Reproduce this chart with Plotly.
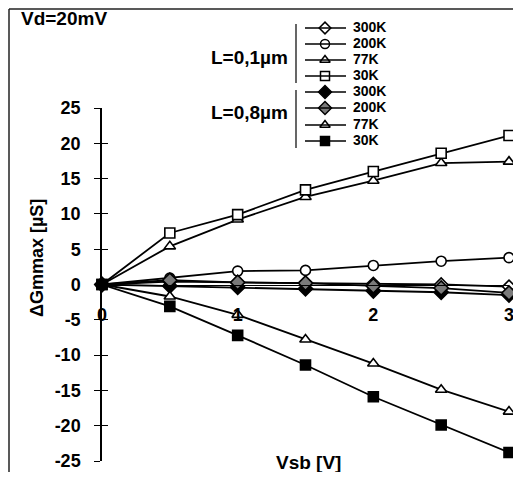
import plotly.graph_objects as go

# ---- data ----
vsb = [0, 0.5, 1, 1.5, 2, 2.5, 3]
l01_300K = [0, 0.4, 0.3, 0.2, 0.1, 0.0, -0.3]
l01_200K = [0, 0.9, 1.9, 2.0, 2.7, 3.3, 3.8]
l01_77K = [0, 5.4, 9.2, 12.4, 14.7, 17.2, 17.4]
l01_30K = [0, 7.3, 9.9, 13.4, 16.0, 18.6, 21.1]
l08_300K = [0, -0.2, -0.4, -0.6, -0.9, -1.1, -1.5]
l08_200K = [0, 0.6, 0.3, 0.2, -0.2, -0.5, -1.2]
l08_77K = [0, -1.7, -4.3, -7.8, -11.2, -14.9, -18.0]
l08_30K = [0, -3.1, -7.2, -11.4, -15.9, -19.9, -23.8]
temps = ["300K", "200K", "77K", "30K"]
y_ticks = [-25, -20, -15, -10, -5, 0, 5, 10, 15, 20, 25]
y_ticktext = ["-25", "-20", "-15", "-10", "-5", "0", "5", "10", "15", "20", "25"]
x_ticks = [0, 1, 2, 3]

# page body has an 8px margin; figure is placed at (8, 8)
OFF = 8
W, H = 521 - OFF, 464
L, R, T, B = 102, 509, 108, 461  # plot area in screen pixels


def px(x):
    return (x - OFF) / W


def py(y):
    return 1 - (y - OFF) / H


FONT = "Liberation Sans, Arial, sans-serif"
BLACK = "#000000"

styles = [
    ("diamond", "white", 10),
    ("circle", "white", 10),
    ("triangle-up", "white", 10),
    ("square", "white", 10),
    ("diamond", BLACK, 11),
    ("diamond", "#7a7a7a", 11),
    ("triangle-up", "white", 10),
    ("square", BLACK, 10),
]

series = [
    ("L=0,1µm 300K", l01_300K, styles[0]),
    ("L=0,1µm 200K", l01_200K, styles[1]),
    ("L=0,8µm 300K", l08_300K, styles[4]),
    ("L=0,8µm 200K", l08_200K, styles[5]),
    ("L=0,1µm 77K", l01_77K, styles[2]),
    ("L=0,1µm 30K", l01_30K, styles[3]),
    ("L=0,8µm 77K", l08_77K, styles[6]),
    ("L=0,8µm 30K", l08_30K, styles[7]),
]

fig = go.Figure()
for name, ys, (sym, fill, size) in series:
    m = dict(symbol=sym, size=size, color=fill, line=dict(color=BLACK, width=1.6))
    fig.add_trace(go.Scatter(
        x=vsb, y=ys, name=name, mode="lines+markers",
        line=dict(color=BLACK, width=1.8), marker=m, cliponaxis=False,
        showlegend=False,
    ))

# ---- custom legend (decoration) ----
rows_y = [28, 44, 60, 76, 92, 108, 125, 141]
shapes = []
annotations = []
for i, (sym, fill, size) in enumerate(styles):
    y = rows_y[i]
    shapes.append(dict(type="line", xref="paper", yref="paper",
                       x0=px(305), x1=px(346), y0=py(y), y1=py(y),
                       line=dict(color=BLACK, width=1.5)))
    m = dict(symbol=sym, size=size - 1, color=fill, line=dict(color=BLACK, width=1.5))
    fig.add_trace(go.Scatter(x=[325], y=[y], mode="markers", marker=m,
                             xaxis="x2", yaxis="y2", cliponaxis=False,
                             showlegend=False, hoverinfo="skip"))
    annotations.append(dict(x=px(351), y=py(y - 1), xref="paper", yref="paper",
                            text=temps[i % 4], showarrow=False, xanchor="left",
                            yanchor="middle",
                            font=dict(family=FONT, size=14, color=BLACK, weight="bold")))

# brackets
for y0, y1 in [(24, 83), (90, 148)]:
    shapes.append(dict(type="line", xref="paper", yref="paper",
                       x0=px(296), x1=px(296), y0=py(y0), y1=py(y1),
                       line=dict(color=BLACK, width=1.2)))
for txt, yc in [("L=0,1µm", 57), ("L=0,8µm", 112)]:
    annotations.append(dict(x=px(290), y=py(yc), xref="paper", yref="paper",
                            text=txt, showarrow=False, xanchor="right", yanchor="middle",
                            font=dict(family=FONT, size=19, color=BLACK, weight="bold")))

# frame (at the figure's own top/left edge)
shapes.append(dict(type="line", xref="paper", yref="paper",
                   x0=px(9), x1=1, y0=py(9), y1=py(9),
                   line=dict(color="#222", width=1.5)))
shapes.append(dict(type="line", xref="paper", yref="paper",
                   x0=px(9), x1=px(9), y0=py(9), y1=0,
                   line=dict(color="#222", width=1.5)))

annotations.append(dict(x=px(19), y=py(18), xref="paper", yref="paper",
                        text="Vd=20mV", showarrow=False, xanchor="left", yanchor="middle",
                        font=dict(family=FONT, size=19, color=BLACK, weight="bold")))
annotations.append(dict(x=px(308), y=py(462), xref="paper", yref="paper",
                        text="Vsb [V]", showarrow=False, xanchor="center", yanchor="middle",
                        font=dict(family=FONT, size=19, color=BLACK, weight="bold")))
annotations.append(dict(x=px(37), y=py(258), xref="paper", yref="paper",
                        text="ΔGmmax [µS]", showarrow=False, textangle=-90,
                        xanchor="center", yanchor="middle",
                        font=dict(family=FONT, size=18, color=BLACK, weight="bold")))

xdom = [px(L), px(R)]
ydom = [py(B), py(T)]
tickfont = dict(family=FONT, size=18, color=BLACK, weight="bold")
fig.update_layout(
    width=W, height=H,
    margin=dict(l=0, r=0, t=0, b=0, pad=0),
    paper_bgcolor="white", plot_bgcolor="rgba(0,0,0,0)",
    xaxis=dict(domain=xdom, range=[0, 3], anchor="free", position=(ydom[0] + ydom[1]) / 2,
               showgrid=False, zeroline=False, showline=True, linecolor=BLACK, linewidth=1,
               ticks="", tickvals=x_ticks, ticktext=[str(v) for v in x_ticks],
               tickfont=tickfont, ticklabelstandoff=14, automargin=False,
               ticklabeloverflow="allow"),
    yaxis=dict(domain=ydom, range=[-25, 25], anchor="x", showgrid=False, zeroline=False,
               showline=True, linecolor=BLACK, linewidth=1.5, ticks="outside", ticklen=6,
               tickwidth=1.2, tickcolor=BLACK, tickvals=y_ticks, ticktext=y_ticktext,
               tickfont=tickfont, ticklabelstandoff=10, automargin=False,
               ticklabeloverflow="allow"),
    yaxis3=dict(domain=ydom, range=[-25, 25], overlaying="y", anchor="x", showgrid=False,
                zeroline=False, showline=False, ticks="inside", ticklen=6, tickwidth=1.2,
                tickcolor=BLACK, tickvals=y_ticks, showticklabels=False),
    xaxis2=dict(domain=[0, 1], range=[OFF, OFF + W], anchor="y2", visible=False),
    yaxis2=dict(domain=[0, 1], range=[OFF + H, OFF], anchor="x2", visible=False),
    shapes=shapes, annotations=annotations,
)
# invisible trace to activate the inner tick axis
fig.add_trace(go.Scatter(x=[0], y=[0], yaxis="y3", mode="markers",
                         marker=dict(opacity=0), showlegend=False, hoverinfo="skip"))
fig.write_html("out.html")
